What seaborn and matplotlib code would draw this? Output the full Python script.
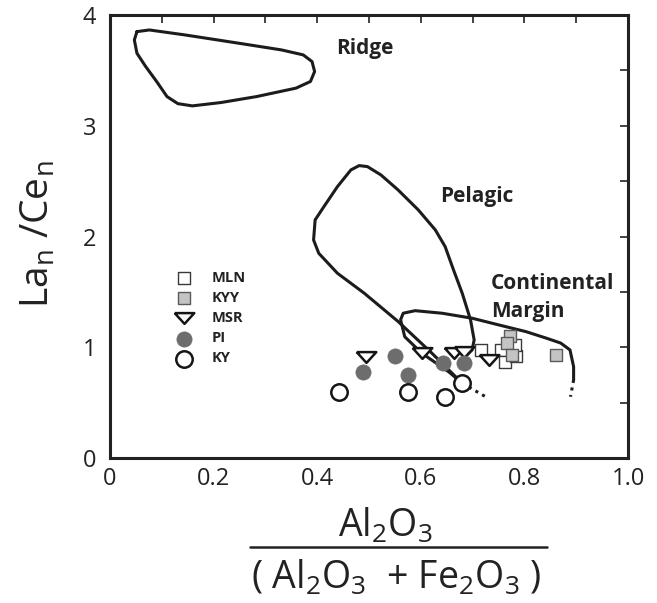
import numpy as np
import pandas as pd
import matplotlib
matplotlib.use("Agg")
import matplotlib.pyplot as plt
from matplotlib.lines import Line2D
import seaborn as sns

# ---------------- data ----------------
mln_x = [0.716, 0.754, 0.763, 0.784, 0.781]
mln_y = [0.977, 0.977, 0.872, 0.923, 1.02]
kyy_x = [0.772, 0.767, 0.777, 0.861]
kyy_y = [1.10, 1.04, 0.93, 0.93]
msr_x = [0.494, 0.602, 0.664, 0.683, 0.732]
msr_y = [0.91, 0.95, 0.95, 0.96, 0.887]
pi_x = [0.550, 0.488, 0.576, 0.642, 0.684]
pi_y = [0.923, 0.78, 0.75, 0.857, 0.857]
ky_x = [0.443, 0.576, 0.647, 0.680]
ky_y = [0.60, 0.60, 0.556, 0.677]

ridge_x = [0.052, 0.076, 0.145, 0.249, 0.331, 0.373, 0.390, 0.395, 0.387, 0.359,
           0.283, 0.214, 0.159, 0.131, 0.110, 0.090, 0.069, 0.052, 0.047, 0.052]
ridge_y = [3.85, 3.865, 3.82, 3.745, 3.685, 3.64, 3.58, 3.49, 3.40, 3.34,
           3.264, 3.21, 3.18, 3.20, 3.264, 3.40, 3.534, 3.655, 3.775, 3.85]

pelagic_x = [0.689, 0.699, 0.703, 0.696, 0.680, 0.663, 0.647, 0.628, 0.595, 0.556,
             0.523, 0.497, 0.481, 0.465, 0.439, 0.413, 0.396, 0.393, 0.403, 0.439,
             0.491, 0.556, 0.620, 0.680]
pelagic_y = [0.933, 0.978, 1.068, 1.249, 1.489, 1.702, 1.910, 2.061, 2.242, 2.422,
             2.557, 2.632, 2.641, 2.602, 2.451, 2.271, 2.151, 1.970, 1.850, 1.670,
             1.489, 1.235, 0.955, 0.677]
pelagic_tail_x = [0.680, 0.725]
pelagic_tail_y = [0.677, 0.556]

margin_x = [0.680, 0.654, 0.602, 0.569, 0.561, 0.566, 0.589, 0.641, 0.699, 0.751,
            0.803, 0.843, 0.870, 0.888, 0.895, 0.895]
margin_y = [0.677, 0.780, 0.948, 1.097, 1.25, 1.309, 1.332, 1.309, 1.264, 1.203,
            1.143, 1.083, 1.040, 0.978, 0.827, 0.707]
margin_tail_x = [0.895, 0.889]
margin_tail_y = [0.707, 0.556]

field_names = ["Ridge", "Pelagic", "Continental\nMargin"]

# ---------------- style ----------------
sns.set_style("white")
plt.rcParams["font.family"] = ["Open Sans", "DejaVu Sans"]
plt.rcParams["mathtext.default"] = "regular"

fig = plt.figure(figsize=(6.57, 6.03), dpi=100)
ax = fig.add_axes([110 / 657, (603 - 458.3) / 603, 518 / 657, 443.3 / 603])

LC = "#1c1c1c"
LW = 2.2
sns.lineplot(x=ridge_x, y=ridge_y, sort=False, estimator=None, ax=ax, color=LC, lw=LW)
sns.lineplot(x=pelagic_x, y=pelagic_y, sort=False, estimator=None, ax=ax, color=LC, lw=LW)
sns.lineplot(x=margin_x, y=margin_y, sort=False, estimator=None, ax=ax, color=LC, lw=LW)
sns.lineplot(x=pelagic_tail_x, y=pelagic_tail_y, sort=False, estimator=None, ax=ax,
             color=LC, lw=LW, linestyle=(0, (1, 1.5)))
sns.lineplot(x=margin_tail_x, y=margin_tail_y, sort=False, estimator=None, ax=ax,
             color=LC, lw=LW, linestyle=(0, (1, 1.5)))

tri = [(-1, 0.55), (1, 0.55), (0, -0.55), (-1, 0.55)]
groups = [
    ("MLN", mln_x, mln_y, dict(marker="s", s=85, color="white", edgecolor="#3a3a3a", linewidth=1.0)),
    ("KYY", kyy_x, kyy_y, dict(marker="s", s=85, color="#c4c4c4", edgecolor="#5a5a5a", linewidth=1.0)),
    ("MSR", msr_x, msr_y, dict(marker=tri, s=200, color="white", edgecolor="#151515", linewidth=1.8)),
    ("PI", pi_x, pi_y, dict(marker="o", s=120, color="#6d6d6d", edgecolor="#6d6d6d", linewidth=0.5)),
    ("KY", ky_x, ky_y, dict(marker="o", s=140, color="white", edgecolor="#151515", linewidth=1.8)),
]
for name, gx, gy, kw in groups:
    df = pd.DataFrame({"x": gx, "y": gy})
    sns.scatterplot(data=df, x="x", y="y", ax=ax, label=name, zorder=3, legend=False, **kw)

# field labels
ax.text(0.492, 3.70, field_names[0], fontsize=15, fontweight="bold", color="#222",
        ha="center", va="center")
ax.text(0.709, 2.36, field_names[1], fontsize=15, fontweight="bold", color="#222",
        ha="center", va="center")
ax.text(0.735, 1.45, field_names[2], fontsize=15, fontweight="bold", color="#222",
        ha="left", va="center", linespacing=1.45)

# axes
ax.set_xlim(0, 1.0)
ax.set_ylim(0, 4)
ax.set_xticks(np.arange(0, 1.01, 0.2))
ax.set_xticklabels(["0", "0.2", "0.4", "0.6", "0.8", "1.0"])
ax.set_xticks(np.arange(0.1, 1.0, 0.2), minor=True)
ax.set_yticks([0, 1, 2, 3, 4])
ax.set_yticks([0.5, 1.5, 2.5, 3.5], minor=True)
ax.tick_params(which="both", direction="in", top=True, right=True, length=6,
               width=1.2, color="#222", labelsize=17, labelcolor="#222")
ax.tick_params(axis="x", pad=6)
ax.tick_params(axis="y", pad=10)
for sp in ax.spines.values():
    sp.set_linewidth(2.2)
    sp.set_color("#222")
ax.set_xlabel("")
ax.set_ylabel("")

leg = ax.legend(loc="center left", bbox_to_anchor=(0.129, 0.316), frameon=False,
                prop={"weight": "bold", "size": 10.5}, borderpad=0, handlelength=1.0,
                handletextpad=1.4, labelspacing=0.42, borderaxespad=0)
for t in leg.get_texts():
    t.set_color("#222")

# axis titles
fig.text(39 / 657, 1 - 234 / 603, r"La$_{n}$ /Ce$_{n}$", rotation=90, fontsize=28,
         ha="center", va="center", color="#222")
fig.text(385 / 657, 66 / 603, r"Al$_{2}$O$_{3}$", fontsize=27, ha="center",
         va="baseline", color="#222")
fig.add_artist(Line2D([250 / 657, 547 / 657], [56 / 603, 56 / 603],
                      transform=fig.transFigure, color="#222", lw=1.8))
fig.text(396.5 / 657, 14 / 603, r"( Al$_{2}$O$_{3}$  + Fe$_{2}$O$_{3}$ )", fontsize=27,
         ha="center", va="baseline", color="#222")

fig.savefig("out.png", dpi=100)
